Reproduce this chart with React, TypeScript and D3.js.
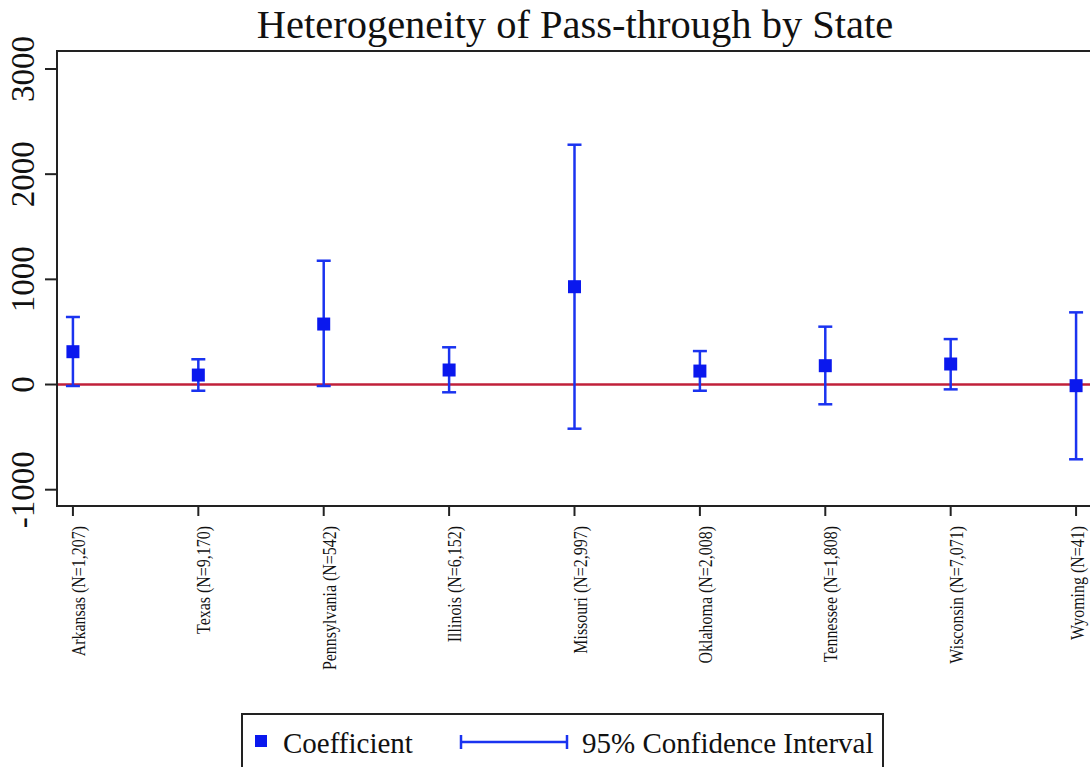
import React from "react";
import * as d3 from "d3";

const states = [
  "Arkansas (N=1,207)",
  "Texas (N=9,170)",
  "Pennsylvania (N=542)",
  "Illinois (N=6,152)",
  "Missouri (N=2,997)",
  "Oklahoma (N=2,008)",
  "Tennessee (N=1,808)",
  "Wisconsin (N=7,071)",
  "Wyoming (N=41)",
];
const coefficients = [312, 90, 575, 138, 930, 128, 179, 195, -11];
const lowerCI = [-14, -59, -14, -74, -420, -59, -188, -46, -711];
const upperCI = [642, 240, 1177, 354, 2280, 318, 550, 432, 686];
const yTicks = [-1000, 0, 1000, 2000, 3000];

const W = 1090;
const H = 767;
const FONT = "'Liberation Serif', 'DejaVu Serif', serif";
const BLUE = "#1a33f0";
const MARK = "#0a18ee";
const RED = "#c0203a";
const TXT = { fontFamily: FONT };

export default function App() {
  const left = 57, right = 1092, top = 51, bottom = 506;
  const x = d3.scalePoint<string>().domain(states).range([left, right]).padding(0.127);
  const y = d3.scaleLinear().domain([-1155, 3171]).range([bottom, top]);
  const cap = 7;
  const ms = 13;

  return (
    <svg width={W} height={H} style={{ position: "absolute", left: 0, top: 0, background: "#fff" }}>
      <rect x={0} y={0} width={W} height={H} fill="#fff" />
      <text x={575} y={38} textAnchor="middle" fontSize={40.5} fill="#111" style={TXT}>
        Heterogeneity of Pass-through by State
      </text>

      {/* zero line */}
      <line x1={left} x2={right} y1={y(0)} y2={y(0)} stroke={RED} strokeWidth={2.5} />

      {/* CIs */}
      {states.map((s, i) => {
        const cx = x(s)!;
        return (
          <g key={s} stroke={BLUE} strokeWidth={2.5}>
            <line x1={cx} x2={cx} y1={y(lowerCI[i])} y2={y(upperCI[i])} />
            <line x1={cx - cap} x2={cx + cap} y1={y(lowerCI[i])} y2={y(lowerCI[i])} />
            <line x1={cx - cap} x2={cx + cap} y1={y(upperCI[i])} y2={y(upperCI[i])} />
          </g>
        );
      })}
      {states.map((s, i) => (
        <rect key={"m" + s} x={x(s)! - ms / 2} y={y(coefficients[i]) - ms / 2} width={ms} height={ms} fill={MARK} />
      ))}

      {/* frame */}
      <rect x={left} y={top} width={right - left} height={bottom - top} fill="none" stroke="#222" strokeWidth={2} />

      {/* y axis */}
      {yTicks.map((t) => (
        <g key={t}>
          <line x1={left - 12} x2={left} y1={y(t)} y2={y(t)} stroke="#222" strokeWidth={2} />
          <text
            transform={`translate(34,${y(t)}) rotate(-90)`}
            textAnchor="middle"
            fontSize={33}
            fill="#111"
            style={TXT}
          >
            {t}
          </text>
        </g>
      ))}

      {/* x axis */}
      {states.map((s) => {
        const px = x(s)!;
        const off = Math.min(12, W - 6 - px);
        return (
          <g key={"x" + s}>
            <line x1={px} x2={px} y1={bottom} y2={bottom + 10} stroke="#222" strokeWidth={2} />
            <text
              transform={`translate(${px + off},${bottom + 20}) rotate(-90) scale(0.84,1)`}
              textAnchor="end"
              fontSize={19}
              fill="#111"
              style={TXT}
            >
              {s}
            </text>
          </g>
        );
      })}

      {/* legend */}
      <rect x={242} y={714} width={641} height={60} fill="#fff" stroke="#222" strokeWidth={2} />
      <rect x={255} y={735} width={12} height={12} fill={MARK} />
      <text x={283} y={753} fontSize={29} fill="#111" style={TXT}>Coefficient</text>
      <g stroke={BLUE} strokeWidth={2.5}>
        <line x1={461} x2={567} y1={742} y2={742} />
        <line x1={461} x2={461} y1={735} y2={749} />
        <line x1={567} x2={567} y1={735} y2={749} />
      </g>
      <text x={582} y={753} fontSize={29} fill="#111" style={TXT}>95% Confidence Interval</text>
    </svg>
  );
}
